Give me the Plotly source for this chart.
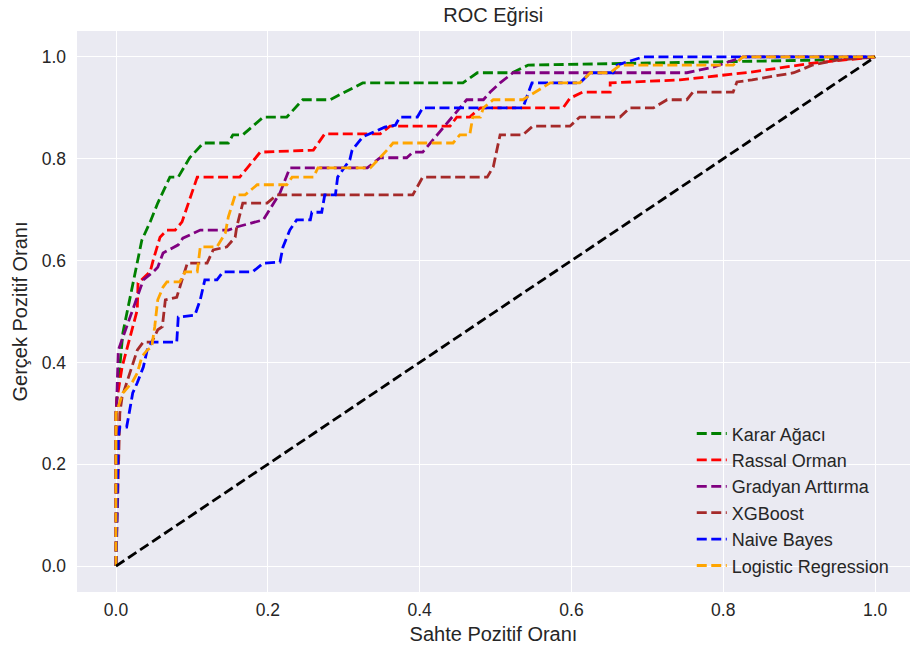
import plotly.graph_objects as go

# ROC curve points (false positive rate, true positive rate) per model
karar_fpr = [0.0, 0.0, 0.001, 0.009, 0.034, 0.045, 0.055, 0.071, 0.082, 0.097, 0.115, 0.148, 0.154, 0.167,
             0.194, 0.225, 0.246, 0.282, 0.325, 0.457, 0.476, 0.522, 0.543, 0.931, 1.0]
karar_tpr = [0.0, 0.30, 0.326, 0.458, 0.640, 0.676, 0.713, 0.764, 0.764, 0.802, 0.831, 0.831, 0.847, 0.847,
             0.882, 0.882, 0.916, 0.916, 0.949, 0.949, 0.969, 0.969, 0.984, 0.994, 1.0]

rassal_fpr = [0.0, 0.0, 0.001, 0.008, 0.028, 0.029, 0.045, 0.049, 0.058, 0.067, 0.078, 0.087, 0.107, 0.115,
              0.163, 0.173, 0.190, 0.260, 0.275, 0.348, 0.361, 0.440, 0.449, 0.466, 0.480, 0.589, 0.598,
              0.615, 0.651, 0.651, 0.743, 0.835, 0.918, 1.0]
rassal_tpr = [0.0, 0.30, 0.326, 0.391, 0.503, 0.556, 0.578, 0.601, 0.646, 0.660, 0.660, 0.676, 0.764, 0.764,
              0.764, 0.782, 0.813, 0.817, 0.849, 0.849, 0.864, 0.864, 0.882, 0.882, 0.900, 0.900, 0.919,
              0.931, 0.931, 0.949, 0.955, 0.970, 0.988, 1.0]

gradyan_fpr = [0.0, 0.0, 0.001, 0.003, 0.014, 0.022, 0.032, 0.036, 0.049, 0.055, 0.062, 0.082, 0.088, 0.111,
               0.148, 0.159, 0.194, 0.216, 0.229, 0.331, 0.348, 0.383, 0.391, 0.404, 0.453, 0.462, 0.484,
               0.493, 0.506, 0.523, 0.752, 0.787, 0.826, 1.0]
gradyan_tpr = [0.0, 0.30, 0.326, 0.424, 0.470, 0.503, 0.542, 0.562, 0.578, 0.587, 0.615, 0.631, 0.644, 0.660,
               0.660, 0.666, 0.680, 0.733, 0.782, 0.782, 0.802, 0.802, 0.813, 0.813, 0.900, 0.916, 0.916,
               0.931, 0.949, 0.969, 0.969, 0.980, 1.0, 1.0]

xgb_fpr = [0.0, 0.005, 0.008, 0.021, 0.028, 0.036, 0.047, 0.055, 0.061, 0.065, 0.080, 0.087, 0.094, 0.120,
           0.128, 0.146, 0.157, 0.159, 0.167, 0.199, 0.212, 0.391, 0.404, 0.489, 0.497, 0.506, 0.536, 0.549,
           0.598, 0.611, 0.664, 0.677, 0.708, 0.726, 0.752, 0.760, 0.813, 0.818, 0.838, 0.893, 0.917, 0.950, 1.0]
xgb_tpr = [0.0, 0.30, 0.332, 0.391, 0.424, 0.440, 0.440, 0.464, 0.470, 0.523, 0.528, 0.562, 0.595, 0.595,
           0.621, 0.627, 0.646, 0.666, 0.713, 0.713, 0.729, 0.729, 0.764, 0.764, 0.784, 0.847, 0.847, 0.864,
           0.864, 0.882, 0.882, 0.900, 0.900, 0.916, 0.916, 0.931, 0.931, 0.951, 0.955, 0.969, 0.984, 0.994, 1.0]

nb_fpr = [0.0, 0.003, 0.005, 0.014, 0.018, 0.022, 0.028, 0.036, 0.041, 0.047, 0.080, 0.082, 0.104, 0.111,
          0.117, 0.133, 0.141, 0.180, 0.194, 0.216, 0.220, 0.229, 0.238, 0.256, 0.258, 0.271, 0.275, 0.289,
          0.292, 0.308, 0.311, 0.325, 0.354, 0.368, 0.374, 0.397, 0.404, 0.536, 0.543, 0.548, 0.611, 0.625,
          0.655, 0.660, 0.694, 1.0]
nb_tpr = [0.0, 0.253, 0.273, 0.273, 0.306, 0.340, 0.360, 0.391, 0.424, 0.440, 0.440, 0.489, 0.493, 0.523,
          0.562, 0.562, 0.578, 0.578, 0.595, 0.597, 0.627, 0.660, 0.680, 0.680, 0.695, 0.695, 0.729, 0.729,
          0.764, 0.798, 0.817, 0.843, 0.862, 0.866, 0.882, 0.882, 0.900, 0.900, 0.929, 0.949, 0.949, 0.969,
          0.969, 0.984, 1.0, 1.0]

lr_fpr = [0.0, 0.0, 0.009, 0.021, 0.028, 0.034, 0.041, 0.047, 0.051, 0.055, 0.062, 0.067, 0.084, 0.091,
          0.107, 0.111, 0.133, 0.144, 0.148, 0.157, 0.170, 0.186, 0.225, 0.232, 0.260, 0.266, 0.335, 0.348,
          0.357, 0.365, 0.444, 0.453, 0.466, 0.470, 0.480, 0.484, 0.497, 0.536, 0.572, 0.611, 0.625, 0.651,
          0.664, 0.813, 0.826, 1.0]
lr_tpr = [0.0, 0.30, 0.340, 0.360, 0.379, 0.411, 0.424, 0.430, 0.470, 0.523, 0.548, 0.558, 0.558, 0.578,
          0.578, 0.627, 0.627, 0.654, 0.686, 0.729, 0.729, 0.749, 0.749, 0.764, 0.764, 0.782, 0.782, 0.802,
          0.817, 0.831, 0.831, 0.847, 0.847, 0.882, 0.882, 0.900, 0.916, 0.916, 0.949, 0.949, 0.969, 0.969,
          0.984, 0.984, 1.0, 1.0]

model_names = ["Karar Ağacı", "Rassal Orman", "Gradyan Arttırma", "XGBoost", "Naive Bayes", "Logistic Regression"]
model_colors = ["green", "red", "purple", "brown", "blue", "orange"]
curves = [(karar_fpr, karar_tpr), (rassal_fpr, rassal_tpr), (gradyan_fpr, gradyan_tpr),
          (xgb_fpr, xgb_tpr), (nb_fpr, nb_tpr), (lr_fpr, lr_tpr)]

chance_x = [0, 1]
chance_y = [0, 1]

FONT = "Liberation Sans, Arial, sans-serif"
TEXT = "#262626"
DASH = "10px,4.5px"

fig = go.Figure()
for name, color, (fpr, tpr) in zip(model_names, model_colors, curves):
    fig.add_trace(go.Scatter(x=fpr, y=tpr, mode="lines", name=name,
                             line=dict(color=color, width=2.8, dash=DASH)))

fig.add_trace(go.Scatter(x=chance_x, y=chance_y, mode="lines", showlegend=False,
                         line=dict(color="black", width=2.8, dash=DASH)))

axis_common = dict(showgrid=True, gridcolor="white", gridwidth=1.4, zeroline=False,
                   showline=False, ticks="", tickfont=dict(family=FONT, size=17.5, color=TEXT),
                   dtick=0.2, tickformat=".1f")

fig.update_layout(
    width=910, height=657,
    margin=dict(l=77, r=0, t=31, b=65),
    paper_bgcolor="white", plot_bgcolor="#EAEAF2",
    title=dict(text="ROC Eğrisi", x=0.542, xanchor="center", y=0.977, yanchor="middle",
               font=dict(family=FONT, size=20, color=TEXT)),
    xaxis=dict(range=[-0.0514, 1.046], tick0=0,
               title=dict(text="Sahte Pozitif Oranı", font=dict(family=FONT, size=20, color=TEXT),
                          standoff=8),
               ticklabelstandoff=5, **axis_common),
    yaxis=dict(range=[-0.051, 1.051], tick0=0,
               title=dict(text="Gerçek Pozitif Oranı", font=dict(family=FONT, size=20, color=TEXT),
                          standoff=8),
               ticklabelstandoff=10, **axis_common),
    legend=dict(x=0.738, y=0.315, xanchor="left", yanchor="top", bgcolor="rgba(0,0,0,0)",
                borderwidth=0,
                font=dict(family=FONT, size=18, color=TEXT)),
    showlegend=True,
)

fig.write_html("out.html")
